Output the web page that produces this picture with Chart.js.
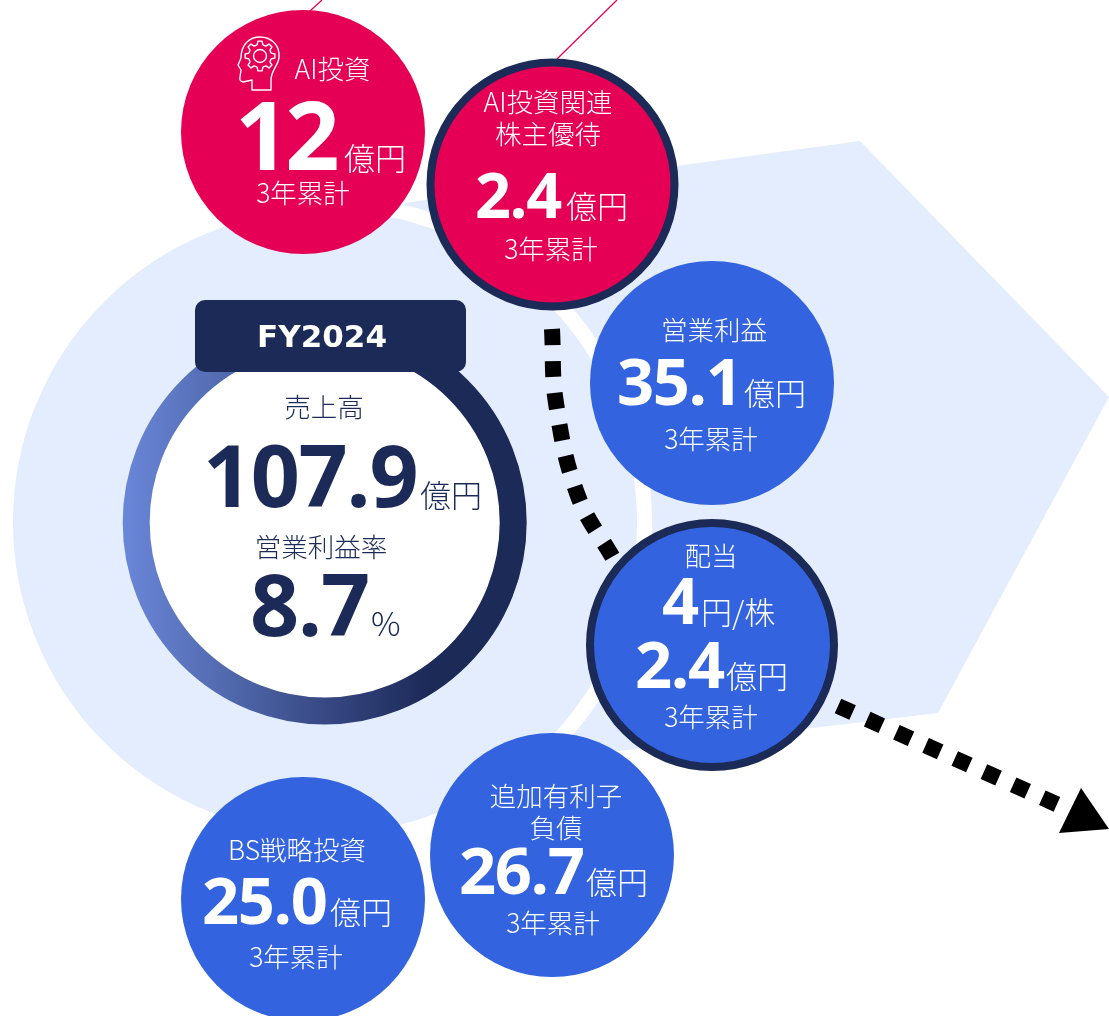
<!DOCTYPE html>
<html lang="ja">
<head>
<meta charset="utf-8">
<title>FY2024</title>
<script src="https://cdn.jsdelivr.net/npm/chart.js@4"></script>
<style>
    html, body { margin: 0; padding: 0; background: #fff; overflow: hidden; }
    canvas { display: block; }
</style>
</head>
<body>
<canvas id="planChart" width="1109" height="1016"></canvas>
<script>
// Values
const yearLabel = 'FY2024';
const salesLabel = '売上高';
const salesValue = '107.9';
const marginLabel = '営業利益率';
const marginValue = '8.7';
const unitOku = '億円';
const unitShare = '円/株';
const unitPercent = '%';
const totalLabel = '3年累計';
const aiLabel = 'AI投資';
const aiValue = '12';
const aiPerkLabels = ['AI投資関連', '株主優待'];
const aiPerkValue = '2.4';
const profitLabel = '営業利益';
const profitValue = '35.1';
const dividendLabel = '配当';
const dividendPerShare = '4';
const dividendValue = '2.4';
const bsLabel = 'BS戦略投資';
const bsValue = '25.0';
const debtLabels = ['追加有利子', '負債'];
const debtValue = '26.7';

// Colours
const navy = '#1b2a57';
const pink = '#e60055';
const blue = '#3363de';
const pale = '#e3edfe';

// Layout (canvas is mapped 1:1 on the scales)
const circleCenters = [[303, 132], [712, 383], [303, 899], [552, 855]];
const circleColors = [pink, blue, blue, blue];
const outlinedCenters = [[552.5, 184.5], [712, 645]];
const outlinedColors = [pink, blue];
const hexagonPath = [[404, 203], [860, 141], [1109, 397], [938, 713], [560, 758], [404, 203]];
const arrowHeadPath = [[1081, 788], [1109, 829], [1059, 833], [1081, 788]];
const curvePath = [[552, 329], [556, 403], [578, 496], [613, 558]];
const arrowPath = [[838, 706], [1065, 808]];
const leaderLines = [[[310, 11], [322, 0]], [[557, 59], [617, 0]]];

const toPoints = path => path.map(p => ({ x: p[0], y: p[1] }));
const sans = '"Noto Sans CJK JP", sans-serif';
const digits = '"Open Sans", sans-serif';

function drawText(ctx, text, x, y, font, color, align, spacing) {
    ctx.font = font;
    ctx.letterSpacing = (spacing || 0) + 'px';
    ctx.fillStyle = color;
    ctx.textAlign = align || 'left';
    ctx.textBaseline = 'alphabetic';
    ctx.fillText(text, x, y);
}

function label(ctx, text, x, y, color) {
    drawText(ctx, text, x, y, '300 26.5px ' + sans, color || '#fff', 'center');
}

function big(ctx, text, x, y, size, color, spacing) {
    drawText(ctx, text, x, y, '700 ' + size + 'px ' + digits, color || '#fff', 'left', spacing === undefined ? -1.4 : spacing);
}

function unit(ctx, text, x, y, color) {
    drawText(ctx, text, x, y, '300 31px ' + sans, color || '#fff');
}

function drawBrainIcon(ctx) {
    ctx.save();
    ctx.strokeStyle = '#fff';
    ctx.lineWidth = 1.4;
    ctx.lineJoin = 'round';
    // head outline
    ctx.beginPath();
    ctx.moveTo(252, 90);
    ctx.lineTo(252, 80);
    ctx.lineTo(243, 82);
    ctx.quadraticCurveTo(239, 81, 240, 77);
    ctx.lineTo(241, 70);
    ctx.lineTo(238, 65);
    ctx.lineTo(241, 58);
    ctx.bezierCurveTo(241, 44, 250, 37, 260, 37);
    ctx.bezierCurveTo(272, 37, 280, 46, 279, 57);
    ctx.bezierCurveTo(279, 65, 271, 70, 271, 80);
    ctx.lineTo(271, 90);
    ctx.closePath();
    ctx.stroke();
    // gear
    const cx = 260, cy = 56;
    const teeth = 8;
    ctx.beginPath();
    for (let i = 0; i < teeth; i++) {
        const a = i / teeth * Math.PI * 2;
        const w = Math.PI / teeth / 2;
        [[a - w * 1.3, 11.5], [a - w * 0.7, 15], [a + w * 0.7, 15], [a + w * 1.3, 11.5]].forEach(([t, r], j) => {
            const px = cx + Math.cos(t) * r, py = cy + Math.sin(t) * r;
            if (i === 0 && j === 0) ctx.moveTo(px, py); else ctx.lineTo(px, py);
        });
    }
    ctx.closePath();
    ctx.stroke();
    ctx.beginPath();
    ctx.arc(cx, cy, 6.5, 0, Math.PI * 2);
    ctx.stroke();
    ctx.restore();
}

const labelsPlugin = {
    id: 'labelsPlugin',
    afterDatasetsDraw(chart) {
        const ctx = chart.ctx;
        ctx.save();

        // FY tab
        ctx.fillStyle = navy;
        ctx.beginPath();
        ctx.roundRect(195, 300, 271, 72, 10);
        ctx.fill();
        drawText(ctx, yearLabel, 322, 347, '700 31px "DejaVu Sans", sans-serif', '#fff', 'center');

        // center circle
        label(ctx, salesLabel, 324, 417, navy);
        big(ctx, salesValue, 203, 507, 86, navy);
        unit(ctx, unitOku, 420, 507, navy);
        label(ctx, marginLabel, 321, 557, navy);
        big(ctx, marginValue, 250, 636, 86, navy);
        drawText(ctx, unitPercent, 371, 636, '300 33px ' + sans, navy);

        // AI
        drawBrainIcon(ctx);
        label(ctx, aiLabel, 332.5, 79);
        big(ctx, aiValue, 235, 170, 95, '#fff', -4);
        unit(ctx, unitOku, 344, 170);
        label(ctx, totalLabel, 303, 203);

        // AI perk
        label(ctx, aiPerkLabels[0], 548, 112);
        label(ctx, aiPerkLabels[1], 548, 144);
        big(ctx, aiPerkValue, 475, 218, 63);
        unit(ctx, unitOku, 566, 218);
        label(ctx, totalLabel, 551, 259);

        // Profit
        label(ctx, profitLabel, 714, 340);
        big(ctx, profitValue, 617, 405, 65);
        unit(ctx, unitOku, 744, 405);
        label(ctx, totalLabel, 711, 449);

        // Dividend
        label(ctx, dividendLabel, 711, 566);
        big(ctx, dividendPerShare, 662, 624, 65);
        unit(ctx, unitShare, 701, 624);
        big(ctx, dividendValue, 635, 688, 65);
        unit(ctx, unitOku, 726, 688);
        label(ctx, totalLabel, 711, 727);

        // BS
        label(ctx, bsLabel, 297, 860);
        big(ctx, bsValue, 202, 924, 65);
        unit(ctx, unitOku, 330, 924);
        label(ctx, totalLabel, 296, 967);

        // Debt
        label(ctx, debtLabels[0], 556, 806);
        label(ctx, debtLabels[1], 556, 838);
        big(ctx, debtValue, 459, 894, 65);
        unit(ctx, unitOku, 586, 894);
        label(ctx, totalLabel, 553, 933);

        ctx.restore();
    }
};

document.addEventListener('DOMContentLoaded', () => {
    const canvas = document.getElementById('planChart');
    const ctx = canvas.getContext('2d');

    const ringGradient = ctx.createLinearGradient(123, 0, 430, 0);
    ringGradient.addColorStop(0, '#6a86d8');
    ringGradient.addColorStop(0.35, '#5068ac');
    ringGradient.addColorStop(0.7, '#34447e');
    ringGradient.addColorStop(1, navy);

    const thinLines = leaderLines.map(path => ({
        type: 'line',
        data: toPoints(path),
        borderColor: pink,
        borderWidth: 1.3,
        pointRadius: 0,
        clip: false,
        order: 8
    }));

    new Chart(ctx, {
        type: 'bubble',
        data: {
            datasets: [
                {
                    // flat circles
                    data: circleCenters.map(c => ({ x: c[0], y: c[1], r: 122 })),
                    backgroundColor: circleColors,
                    borderWidth: 0,
                    clip: false,
                    order: 2
                },
                {
                    // outlined circles
                    data: outlinedCenters.map(c => ({ x: c[0], y: c[1], r: 122 })),
                    backgroundColor: outlinedColors,
                    borderColor: navy,
                    borderWidth: 8,
                    clip: false,
                    order: 1
                },
                {
                    // sales ring
                    data: [{ x: 324.7, y: 522.5, r: 188.5 }],
                    backgroundColor: '#fff',
                    borderColor: ringGradient,
                    borderWidth: 27,
                    clip: false,
                    order: 3
                },
                {
                    type: 'line',
                    data: toPoints(curvePath),
                    borderColor: '#000',
                    borderWidth: 16,
                    borderDash: [16, 16],
                    borderCapStyle: 'butt',
                    tension: 0.4,
                    pointRadius: 0,
                    clip: false,
                    order: 4
                },
                {
                    type: 'line',
                    data: toPoints(arrowPath),
                    borderColor: '#000',
                    borderWidth: 16,
                    borderDash: [16, 16],
                    borderCapStyle: 'butt',
                    pointRadius: 0,
                    clip: false,
                    order: 4
                },
                {
                    type: 'line',
                    data: toPoints(arrowHeadPath),
                    borderWidth: 0,
                    backgroundColor: '#000',
                    fill: 'shape',
                    pointRadius: 0,
                    clip: false,
                    order: 3.5
                },
                {
                    // pale disc with the white band round it
                    data: [{ x: 325, y: 522, r: 319.5 }],
                    backgroundColor: pale,
                    borderColor: '#fff',
                    borderWidth: 15,
                    clip: false,
                    order: 9
                },
                {
                    type: 'line',
                    data: toPoints(hexagonPath),
                    borderWidth: 0,
                    backgroundColor: pale,
                    fill: 'shape',
                    pointRadius: 0,
                    clip: false,
                    order: 10
                },
                ...thinLines
            ]
        },
        options: {
            responsive: false,
            animation: false,
            events: [],
            layout: { padding: 0, autoPadding: false },
            plugins: {
                legend: { display: false },
                tooltip: { enabled: false }
            },
            scales: {
                x: { type: 'linear', min: 0, max: 1109, display: false },
                y: { type: 'linear', min: 0, max: 1016, reverse: true, display: false }
            }
        },
        plugins: [labelsPlugin]
    });
});
</script>
</body>
</html>
